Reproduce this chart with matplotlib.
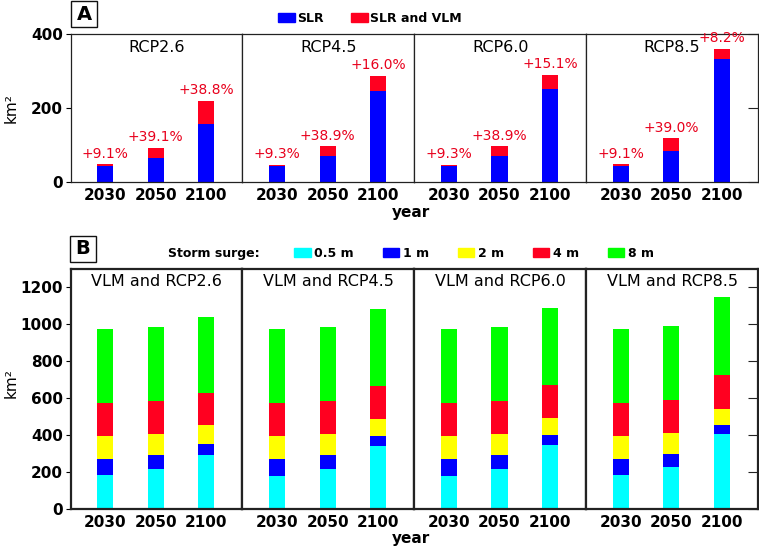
import numpy as np
import matplotlib.pyplot as plt
from matplotlib.patches import Patch, Rectangle

plt.rcParams['font.family'] = ['DejaVu Sans']

years = ['2030', '2050', '2100']
rcps = ['RCP2.6', 'RCP4.5', 'RCP6.0', 'RCP8.5']

# A: inundated area (km2), SLR only vs SLR + VLM
slr = [[44, 66, 158], [43, 69, 247], [43, 69, 252], [44, 85, 333]]
slr_vlm = [[48, 92, 219], [47, 96, 287], [47, 96, 290], [48, 118, 360]]
pct_labels = [['+9.1%', '+39.1%', '+38.8%'],
              ['+9.3%', '+38.9%', '+16.0%'],
              ['+9.3%', '+38.9%', '+15.1%'],
              ['+9.1%', '+39.0%', '+8.2%']]

# B: area flooded for each storm surge height (cumulative, km2)
surges = ['0.5 m', '1 m', '2 m', '4 m', '8 m']
surge_05 = [[186, 218, 294], [180, 218, 342], [180, 218, 348], [186, 229, 407]]
surge_1 = [[272, 294, 353], [272, 294, 396], [272, 294, 402], [272, 299, 456]]
surge_2 = [[396, 407, 456], [396, 407, 488], [396, 407, 494], [396, 413, 542]]
surge_4 = [[575, 586, 629], [575, 586, 668], [575, 586, 672], [575, 591, 726]]
surge_8 = [[975, 986, 1040], [975, 986, 1083], [975, 986, 1088], [975, 991, 1148]]
surge_vals = [surge_05, surge_1, surge_2, surge_4, surge_8]

blue = '#0000ff'
red = '#ff0020'
surge_colors = ['#00ffff', blue, '#ffff00', red, '#00ff00']

W, H = 759, 551
fig = plt.figure(figsize=(W / 100, H / 100), dpi=100)

x = np.arange(len(years))
left = 70.5
pw = 171.9


def style_axes(ax, i, lw, yticks, ylim):
    ax.set_xlim(-0.69, 2.72)
    ax.set_ylim(*ylim)
    ax.set_xticks(x, years)
    ax.tick_params(axis='x', length=0, pad=4, labelsize=11)
    for lbl in ax.get_xticklabels():
        lbl.set_fontweight('bold')
    ax.set_yticks(yticks)
    if i == 0:
        ax.tick_params(axis='y', left=True, right=False, labelleft=True,
                       direction='out', length=3.5, labelsize=11, pad=2)
    elif i == 3:
        ax.tick_params(axis='y', left=False, right=True, labelleft=False,
                       direction='in', length=7, color='#222222')
    else:
        ax.tick_params(axis='y', left=False, right=False, labelleft=False)
    for lbl in ax.get_yticklabels():
        lbl.set_fontweight('bold')
    for s in ax.spines.values():
        s.set_linewidth(lw)
        s.set_color('#222222')


# ---- panel A ----
a_top, a_bot = 34, 182
for i, rcp in enumerate(rcps):
    ax = fig.add_axes([(left + i * pw) / W, 1 - a_bot / H, pw / W, (a_bot - a_top) / H])
    ax.bar(x, slr_vlm[i], width=0.32, color=red)
    ax.bar(x, slr[i], width=0.32, color=blue)
    for j in range(len(years)):
        ax.annotate(pct_labels[i][j], (x[j], slr_vlm[i][j]), xytext=(0, 2.5),
                    textcoords='offset points', ha='center', va='bottom',
                    fontsize=10, color='#e8001c', clip_on=False)
    ax.text(0.5, 0.912, rcp, transform=ax.transAxes, ha='center', va='center',
            fontsize=11.5)
    style_axes(ax, i, 0.9, [0, 200, 400], (0, 400))

# ---- panel B ----
b_top, b_bot = 269, 509
for i, rcp in enumerate(rcps):
    ax = fig.add_axes([(left + i * pw) / W, 1 - b_bot / H, pw / W, (b_bot - b_top) / H])
    for k in range(len(surges) - 1, -1, -1):
        ax.bar(x, surge_vals[k][i], width=0.32, color=surge_colors[k])
    ax.text(0.5, 0.95, 'VLM and ' + rcp, transform=ax.transAxes, ha='center',
            va='center', fontsize=11.5)
    style_axes(ax, i, 1.6, np.arange(0, 1201, 200), (0, 1300))

# labels
for yc in [(a_top + a_bot) / 2, (b_top + b_bot) / 2 - 6]:
    fig.text(11 / W, 1 - yc / H, 'km²', rotation=90, ha='center', va='center',
             fontsize=11)
for yc in [212, 538]:
    fig.text(411 / W, 1 - yc / H, 'year', ha='center', va='center',
             fontsize=11, fontweight='bold')

# panel letters
for letter, (bx, by) in [('A', (71, 1)), ('B', (70, 236))]:
    fig.patches.append(Rectangle((bx / W, 1 - (by + 26) / H), 26 / W, 26 / H,
                                 transform=fig.transFigure, fill=False,
                                 edgecolor='#111111', lw=1.0))
    fig.text((bx + 13) / W, 1 - (by + 13) / H, letter, ha='center', va='center',
             fontsize=14, fontweight='bold')

# legends
fig.legend([Patch(color=blue), Patch(color=red)], ['SLR', 'SLR and VLM'],
           loc='center', bbox_to_anchor=(370 / W, 1 - 18 / H), ncol=2,
           frameon=False, prop={'size': 9, 'weight': 'bold'},
           handlelength=1.3, handleheight=0.75, handletextpad=0.2,
           columnspacing=2.2, borderpad=0, borderaxespad=0)

fig.text(168 / W, 1 - 253 / H, 'Storm surge:', ha='left', va='center',
         fontsize=9, fontweight='bold')
fig.legend([Patch(color=c) for c in surge_colors], surges,
           loc='center', bbox_to_anchor=(474 / W, 1 - 253 / H), ncol=5,
           frameon=False, prop={'size': 9, 'weight': 'bold'},
           handlelength=1.3, handleheight=0.75, handletextpad=0.3,
           columnspacing=2.3, borderpad=0, borderaxespad=0)

fig.savefig('out.png', dpi=100)
